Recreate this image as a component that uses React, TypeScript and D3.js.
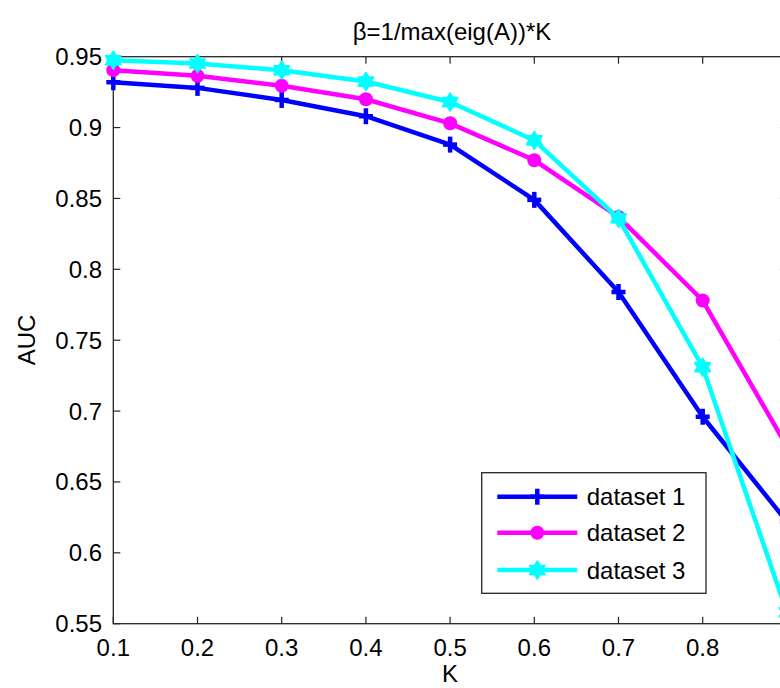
import React from "react";
import * as d3 from "d3";

const kValues = [0.1, 0.2, 0.3, 0.4, 0.5, 0.6, 0.7, 0.8, 0.9];
const dataset1 = [0.932, 0.928, 0.9195, 0.908, 0.888, 0.849, 0.784, 0.696, 0.622];
const dataset2 = [0.9405, 0.9365, 0.9295, 0.920, 0.903, 0.877, 0.837, 0.778, 0.675];
const dataset3 = [0.9475, 0.9452, 0.9405, 0.9325, 0.918, 0.891, 0.836, 0.731, 0.558];
const xTicks = [0.1, 0.2, 0.3, 0.4, 0.5, 0.6, 0.7, 0.8, 0.9];
const xTickLabels = [0.1, 0.2, 0.3, 0.4, 0.5, 0.6, 0.7, 0.8];
const yTicks = [0.55, 0.6, 0.65, 0.7, 0.75, 0.8, 0.85, 0.9, 0.95];
const seriesNames = ["dataset 1", "dataset 2", "dataset 3"];
const seriesColors = ["#0000ff", "#ff00ff", "#00ffff"];
const titleText = "β=1/max(eig(A))*K";
const xLabel = "K";
const yLabel = "AUC";

const W = 780;
const H = 688;
const left = 113.3;
const right = 786.9;
const top = 56.7;
const bottom = 623.7;
const FONT = "'Liberation Sans', Arial, sans-serif";

function hexagram(r: number): string {
  const pts: [number, number][] = [];
  for (let i = 0; i < 12; i++) {
    const a = (Math.PI / 6) * i - Math.PI / 2;
    const rr = i % 2 === 0 ? r : r * 0.6;
    pts.push([Math.cos(a) * rr, Math.sin(a) * rr]);
  }
  return "M" + pts.map((p) => p.join(",")).join("L") + "Z";
}

function Marker({ kind, x, y, color }: { kind: number; x: number; y: number; color: string }) {
  if (kind === 0) {
    return (
      <g transform={`translate(${x},${y})`} stroke={color} strokeWidth={4.5}>
        <line x1={-7} y1={0} x2={7} y2={0} />
        <line x1={0} y1={-8} x2={0} y2={8} />
      </g>
    );
  }
  if (kind === 1) {
    return <circle cx={x} cy={y} r={7} fill={color} />;
  }
  return <path d={hexagram(9)} transform={`translate(${x},${y})`} fill={color} stroke={color} strokeWidth={1.5} strokeLinejoin="round" />;
}

export default function App() {
  const x = d3.scaleLinear().domain([0.1, 0.9]).range([left, right]);
  const y = d3.scaleLinear().domain([0.55, 0.95]).range([bottom, top]);
  const series = [dataset1, dataset2, dataset3];
  const line = d3
    .line<number>()
    .x((_, i) => x(kValues[i]))
    .y((d) => y(d));
  const axisColor = "#262626";
  const tickLen = 7;

  const legX = 481.7;
  const legY = 472.7;
  const legW = 224.3;
  const legH = 120.6;
  const rowYs = [496.7, 532.7, 570];

  return (
    <svg
      width={W}
      height={H}
      style={{ position: "absolute", left: 0, top: 0, background: "#fff" }}
      fontFamily={FONT}
    >
      <rect x={0} y={0} width={W} height={H} fill="#fff" />
      <rect x={left} y={top} width={right - left} height={bottom - top} fill="none" stroke={axisColor} strokeWidth={1.3} />
      {xTicks.map((t) => (
        <g key={"xt" + t}>
          <line x1={x(t)} x2={x(t)} y1={bottom} y2={bottom - tickLen} stroke={axisColor} strokeWidth={1.2} />
          <line x1={x(t)} x2={x(t)} y1={top} y2={top + tickLen} stroke={axisColor} strokeWidth={1.2} />
        </g>
      ))}
      {xTickLabels.map((t) => (
        <text key={"xl" + t} x={x(t)} y={656} textAnchor="middle" fontSize={24} fill="#000">
          {String(t)}
        </text>
      ))}
      {yTicks.map((t) => (
        <g key={"yt" + t}>
          <line x1={left} x2={left + tickLen} y1={y(t)} y2={y(t)} stroke={axisColor} strokeWidth={1.2} />
          <line x1={right} x2={right - tickLen} y1={y(t)} y2={y(t)} stroke={axisColor} strokeWidth={1.2} />
          <text x={102} y={y(t) + 8.5} textAnchor="end" fontSize={24} fill="#000">
            {String(t)}
          </text>
        </g>
      ))}
      {series.map((s, si) => (
        <g key={"s" + si}>
          <path d={line(s) || ""} fill="none" stroke={seriesColors[si]} strokeWidth={4.5} strokeLinejoin="round" />
          {s.map((v, i) => (
            <Marker key={i} kind={si} x={x(kValues[i])} y={y(v)} color={seriesColors[si]} />
          ))}
        </g>
      ))}
      <rect x={legX} y={legY} width={legW} height={legH} fill="#fff" stroke={axisColor} strokeWidth={1.3} />
      {seriesNames.map((n, i) => (
        <g key={"l" + i}>
          <line x1={497.3} x2={577.3} y1={rowYs[i]} y2={rowYs[i]} stroke={seriesColors[i]} strokeWidth={4.5} />
          <Marker kind={i} x={537.3} y={rowYs[i]} color={seriesColors[i]} />
          <text x={586.7} y={rowYs[i] + 8.5} fontSize={24} fill="#000">
            {n}
          </text>
        </g>
      ))}
      <text x={452} y={40} textAnchor="middle" fontSize={24} fill="#000">
        {titleText}
      </text>
      <text x={450} y={682} textAnchor="middle" fontSize={24} fill="#000">
        {xLabel}
      </text>
      <text transform={`translate(35,340) rotate(-90)`} textAnchor="middle" fontSize={24} fill="#000">
        {yLabel}
      </text>
    </svg>
  );
}
